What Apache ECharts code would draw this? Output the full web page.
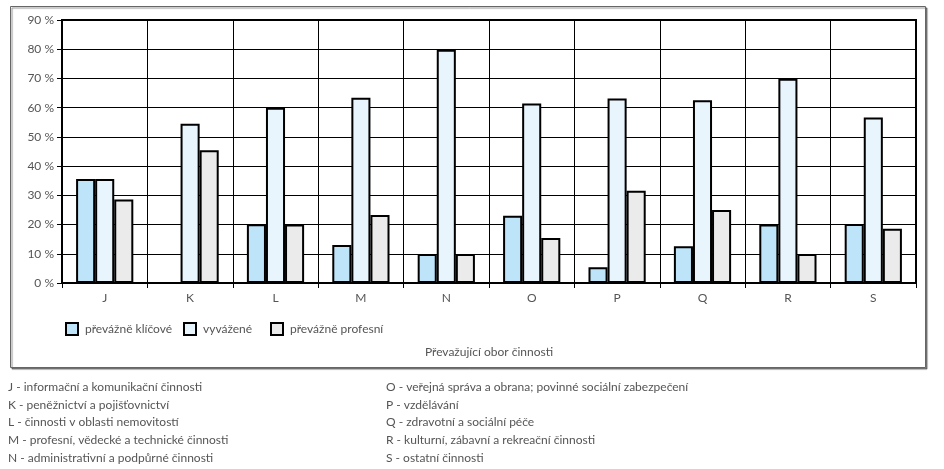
<!DOCTYPE html>
<html>
<head>
<meta charset="utf-8">
<script src="https://cdn.jsdelivr.net/npm/echarts@6/dist/echarts.min.js"></script>
<style>
html,body{margin:0;padding:0;background:#fff;}
#c{width:944px;height:469px;}
</style>
</head>
<body>
<div id="c"></div>
<script>
const categories = ['J','K','L','M','N','O','P','Q','R','S'];
const seriesNames = ['převážně klíčové','vyvážené','převážně profesní'];
const klicove  = [35.6, 0, 20.1, 13.0, 9.9, 23.0, 5.4, 12.6, 20.0, 20.2];
const vyvazene = [35.6, 54.5, 60.0, 63.4, 79.8, 61.4, 63.1, 62.5, 69.9, 56.6];
const profesni = [28.6, 45.4, 20.0, 23.3, 9.9, 15.4, 31.6, 25.0, 9.9, 18.6];
const yTicks = [0,10,20,30,40,50,60,70,80,90];
const axisTitle = 'Převažující obor činnosti';
const notesLeft = [
  'J - informační a komunikační činnosti',
  'K - peněžnictví a pojišťovnictví',
  'L - činnosti v oblasti nemovitostí',
  'M - profesní, vědecké a technické činnosti',
  'N - administrativní a podpůrné činnosti'
];
const notesRight = [
  'O - veřejná správa a obrana; povinné sociální zabezpečení',
  'P - vzdělávání',
  'Q - zdravotní a sociální péče',
  'R - kulturní, zábavní a rekreační činnosti',
  'S - ostatní činnosti'
];
const colors = ['#bde4f8','#e8f5fd','#ebebeb'];
const FONT = 'Lato';
const TXT = '#555';

const chart = echarts.init(document.getElementById('c'), null, {renderer:'canvas'});
const values = [klicove, vyvazene, profesni];

const graphics = [{
  type:'rect', left:10, top:6, z:-10,
  shape:{width:915, height:361},
  style:{fill:'#fff', stroke:'#666', lineWidth:1, shadowColor:'rgba(0,0,0,0.45)', shadowOffsetX:1.5, shadowOffsetY:1.5, shadowBlur:1}
}];
const lineH = 17.8;
notesLeft.forEach((t,i)=>graphics.push({type:'text', left:8, top:381 + i*lineH, style:{text:t, fill:TXT, font:'12px '+FONT}}));
notesRight.forEach((t,i)=>graphics.push({type:'text', left:386, top:381 + i*lineH, style:{text:t, fill:TXT, font:'12px '+FONT}}));

const legendLefts = [60, 178, 265];
const legends = seriesNames.map((n,i)=>({
  data:[n], left:legendLefts[i], top:317, itemWidth:12, itemHeight:12, icon:'rect', itemGap:0,
  textStyle:{color:TXT, fontFamily:FONT, fontSize:12, padding:[0,0,0,2]}
}));

chart.setOption({
  animation:false,
  textStyle:{fontFamily:FONT},
  grid:{left:62, right:28, top:20, bottom:186, show:true, borderColor:'#000', borderWidth:2, backgroundColor:'transparent'},
  legend:legends,
  graphic:graphics,
  xAxis:{
    type:'category', data:categories, boundaryGap:true,
    name:axisTitle, nameLocation:'middle', nameGap:63,
    nameTextStyle:{color:TXT, fontSize:12, fontFamily:FONT},
    axisLine:{lineStyle:{color:'#000', width:2}},
    axisTick:{show:true, length:5, lineStyle:{color:'#000', width:1}},
    axisLabel:{color:TXT, fontSize:12, margin:9, fontFamily:FONT},
    splitLine:{show:true, lineStyle:{color:'#000', width:1}}
  },
  yAxis:{
    type:'value', min:yTicks[0], max:yTicks[yTicks.length-1], interval:10,
    axisLine:{show:true, lineStyle:{color:'#000', width:2}},
    axisTick:{show:true, length:5, lineStyle:{color:'#000', width:1}},
    axisLabel:{color:TXT, fontSize:12, margin:8, fontFamily:FONT, formatter:'{value} %'},
    splitLine:{show:true, lineStyle:{color:'#000', width:1}}
  },
  series: seriesNames.map((n,i)=>({
    name:n, type:'bar', data:values[i], barGap:'0%', barCategoryGap:'33%',
    itemStyle:{color:colors[i], borderColor:'#000', borderWidth:2}
  }))
});
</script>
</body>
</html>
